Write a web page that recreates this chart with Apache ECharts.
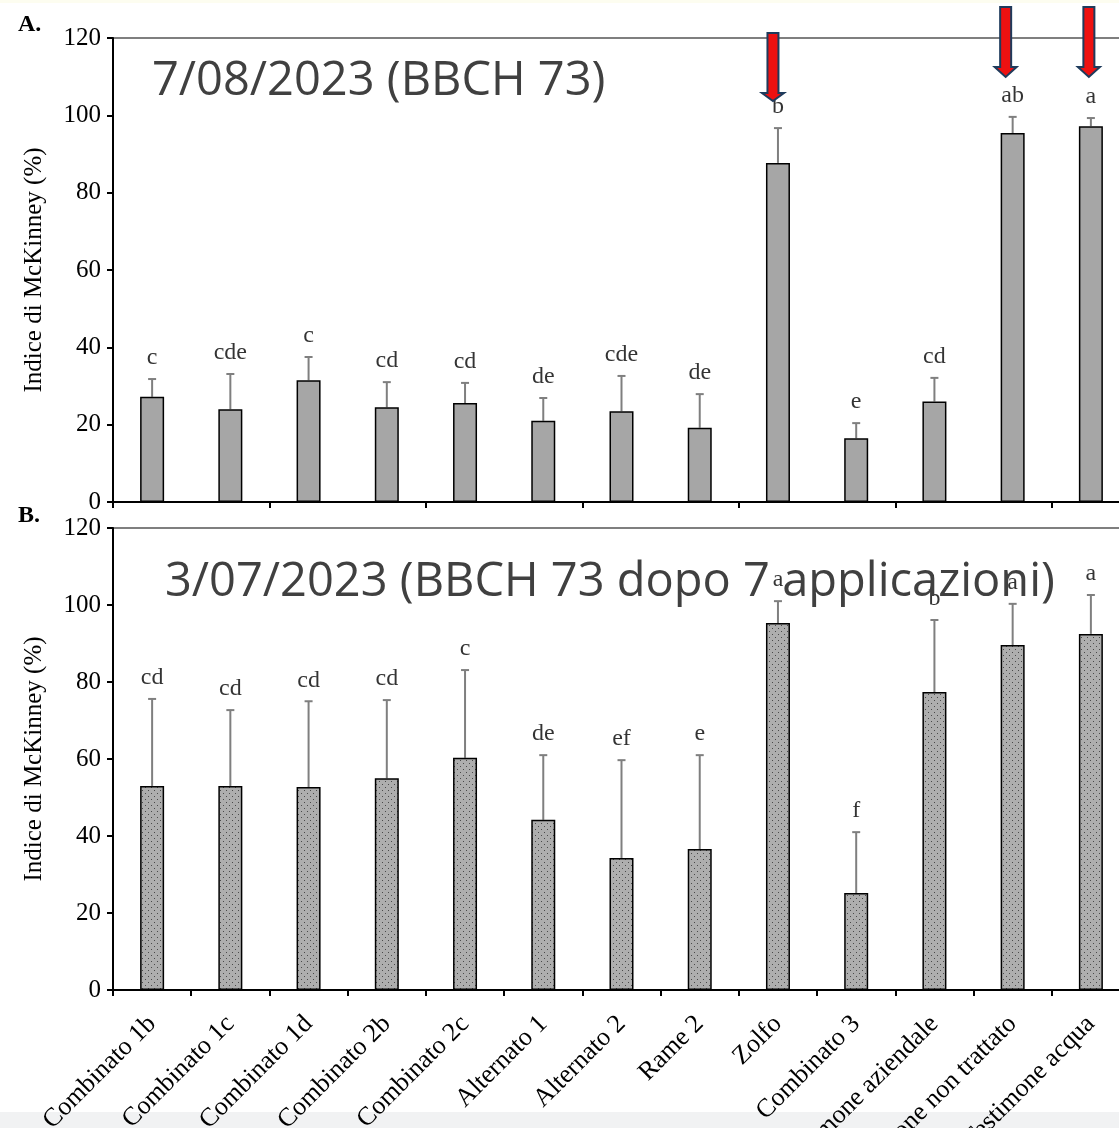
<!DOCTYPE html>
<html>
<head>
<meta charset="utf-8">
<script src="https://cdn.jsdelivr.net/npm/echarts@6/dist/echarts.min.js"></script>
<style>
  html, body { margin: 0; padding: 0; background: #fff; }
  #chart { width: 1119px; height: 1128px; }
</style>
</head>
<body>
<div id="chart"></div>
<script>
// categorie (trattamenti)
const categories = ['Combinato 1b', 'Combinato 1c', 'Combinato 1d', 'Combinato 2b', 'Combinato 2c',
  'Alternato 1', 'Alternato 2', 'Rame 2', 'Zolfo', 'Combinato 3',
  'Testimone aziendale', 'Testimone non trattato', 'Testimone acqua']
const yTicks = [0, 20, 40, 60, 80, 100, 120]

// A. 7/08/2023
const meanA = [27.2, 24.0, 31.5, 24.5, 25.6, 21.0, 23.5, 19.2, 87.7, 16.5, 26.0, 95.4, 97.2]
const errTopA = [31.8, 33.1, 37.5, 31.0, 30.8, 26.9, 32.6, 27.9, 96.7, 20.4, 32.1, 99.6, 99.3]
const lettersA = ['c', 'cde', 'c', 'cd', 'cd', 'de', 'cde', 'de', 'b', 'e', 'cd', 'ab', 'a']

// B. 3/07/2023
const meanB = [53.0, 53.0, 52.7, 55.0, 60.3, 44.2, 34.3, 36.6, 95.3, 25.2, 77.4, 89.6, 92.5]
const errTopB = [75.6, 72.7, 75.0, 75.3, 83.1, 61.0, 59.7, 61.0, 101.0, 41.0, 96.1, 100.3, 102.6]
const lettersB = ['cd', 'cd', 'cd', 'cd', 'c', 'de', 'ef', 'e', 'a', 'f', 'b', 'a', 'a']

// frecce rosse sopra le colonne (indice categoria)
const arrowIdx = [8, 11, 12]

const serif = 'Liberation Serif'

// trama puntinata per il grafico B
const makePattern = () => {
  const c = document.createElement('canvas')
  c.width = 6; c.height = 6
  const ctx = c.getContext('2d')
  ctx.fillStyle = '#aeaeae'
  ctx.fillRect(0, 0, 6, 6)
  ctx.fillStyle = '#4a4a4a'
  ctx.fillRect(1, 1, 1, 1)
  ctx.fillRect(4, 4, 1, 1)
  return c
}

const yAxisCfg = (gi) => ({
  type: 'value',
  gridIndex: gi,
  min: 0, max: 120, interval: 20,
  name: 'Indice di McKinney (%)',
  nameLocation: 'middle',
  nameGap: 66,
  nameTextStyle: { fontFamily: serif, fontSize: 25, color: '#000' },
  axisLine: { show: true, lineStyle: { color: '#000', width: 2 } },
  axisTick: { show: true, inside: false, length: 6, lineStyle: { color: '#000', width: 2 } },
  axisLabel: { fontFamily: serif, fontSize: 25, color: '#000', margin: 12,
    formatter: v => yTicks.includes(v) ? String(v) : '' },
  splitLine: { show: false }
})

const xAxisCfg = (gi, showLabels) => ({
  type: 'category',
  gridIndex: gi,
  data: categories,
  axisLine: { show: true, lineStyle: { color: '#000', width: 2 } },
  axisTick: { show: true, length: 6, lineStyle: { color: '#000', width: 2 } },
  axisLabel: showLabels ? {
    show: true, rotate: 45, interval: 0, fontFamily: serif, fontSize: 26, color: '#000', margin: 30
  } : { show: false }
})

const errSeries = (gi, mean, top) => ({
  type: 'custom',
  xAxisIndex: gi, yAxisIndex: gi,
  z: 1,
  data: mean.map((m, i) => [i, m, top[i]]),
  renderItem: (params, api) => {
    const p0 = api.coord([api.value(0), api.value(1)])
    const p1 = api.coord([api.value(0), api.value(2)])
    const st = { stroke: '#7f7f7f', lineWidth: 2 }
    return {
      type: 'group',
      children: [
        { type: 'line', shape: { x1: p0[0], y1: p0[1], x2: p1[0], y2: p1[1] }, style: st },
        { type: 'line', shape: { x1: p1[0] - 4, y1: p1[1], x2: p1[0] + 4, y2: p1[1] }, style: st }
      ]
    }
  }
})

const letterSeries = (gi, top, letters) => ({
  type: 'scatter',
  xAxisIndex: gi, yAxisIndex: gi,
  symbolSize: 0,
  z: 3,
  data: top.map((t, i) => [i, t]),
  label: {
    show: true, position: 'top', distance: 9,
    fontFamily: serif, fontSize: 24, color: '#000',
    formatter: p => letters[p.dataIndex]
  }
})

const chart = echarts.init(document.getElementById('chart'))

const option = {
  animation: false,
  backgroundColor: '#fff',
  grid: [
    { left: 113, top: 38, width: 1017, height: 464, outerBoundsMode: 'none', containLabel: false,
      show: true, borderColor: '#555', borderWidth: 1.5, backgroundColor: 'transparent' },
    { left: 113, top: 528, width: 1017, height: 462, outerBoundsMode: 'none', containLabel: false,
      show: true, borderColor: '#555', borderWidth: 1.5, backgroundColor: 'transparent' }
  ],
  xAxis: [xAxisCfg(0, false), xAxisCfg(1, true)],
  yAxis: [yAxisCfg(0), yAxisCfg(1)],
  series: [
    {
      type: 'bar', xAxisIndex: 0, yAxisIndex: 0, barWidth: 24, z: 2,
      data: meanA,
      itemStyle: { color: '#a6a6a6', borderColor: '#000', borderWidth: 1.5 }
    },
    errSeries(0, meanA, errTopA),
    letterSeries(0, errTopA, lettersA),
    {
      type: 'bar', xAxisIndex: 1, yAxisIndex: 1, barWidth: 24, z: 2,
      data: meanB,
      itemStyle: { color: { image: makePattern(), repeat: 'repeat' }, borderColor: '#000', borderWidth: 1.5 }
    },
    errSeries(1, meanB, errTopB),
    letterSeries(1, errTopB, lettersB)
  ]
}
chart.setOption(option)

// annotazioni: titoli, lettere dei pannelli, frecce
const arrowShape = (x, top, headY, tip) => [
  [x - 5.5, top], [x + 5.5, top], [x + 5.5, headY], [x + 11, headY],
  [x, tip], [x - 11, headY], [x - 5.5, headY]
]
const arrowGeom = [
  { dx: -5, top: 33, head: 93, tip: 101 },
  { dx: -7, top: 7, head: 67, tip: 77 },
  { dx: -2, top: 7, head: 67, tip: 77 }
]
const arrows = arrowIdx.map((ci, k) => {
  const px = chart.convertToPixel({ gridIndex: 0 }, [ci, 0])[0] + arrowGeom[k].dx
  const g = arrowGeom[k]
  return {
    type: 'polygon', z: 50,
    shape: { points: arrowShape(px, g.top, g.head, g.tip) },
    style: { fill: '#ee1111', stroke: '#1f3b5c', lineWidth: 2 }
  }
})

chart.setOption({
  graphic: [
    { type: 'rect', z: -10, shape: { x: 0, y: 0, width: 1119, height: 3 }, style: { fill: '#fdfdf0' } },
    { type: 'rect', z: -10, shape: { x: 0, y: 1112, width: 1119, height: 16 }, style: { fill: '#f1f2f3' } },
    { type: 'text', left: 18, top: 13, z: 40,
      style: { text: 'A.', font: 'bold 24px "Liberation Serif"', fill: '#000' } },
    { type: 'text', left: 18, top: 504, z: 40,
      style: { text: 'B.', font: 'bold 24px "Liberation Serif"', fill: '#000' } },
    { type: 'text', x: 152, y: 82, z: 40,
      style: { text: '7/08/2023 (BBCH 73)', font: '47px "Open Sans"', fill: '#404040', verticalAlign: 'middle' } },
    { type: 'text', x: 165, y: 583, z: 40,
      style: { text: '3/07/2023 (BBCH 73 dopo 7 applicazioni)', font: '47px "Open Sans"', fill: '#404040', verticalAlign: 'middle' } },
    ...arrows
  ]
})

window.onresize = function () {
  chart.resize()
}
</script>
</body>
</html>
